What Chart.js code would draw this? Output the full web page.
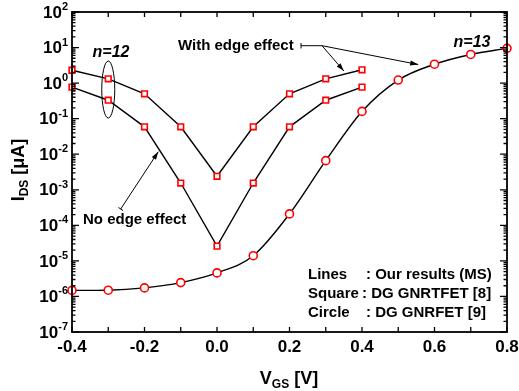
<!DOCTYPE html>
<html>
<head>
<meta charset="utf-8">
<script src="https://cdn.jsdelivr.net/npm/chart.js@4/dist/chart.umd.min.js"></script>
<style>
  html, body { margin: 0; padding: 0; background: #fff; }
  #wrap { width: 519px; height: 391px; }
</style>
</head>
<body>
<div id="wrap"><canvas id="ids-chart"></canvas></div>
<script>
// data
const vgs = [-0.4, -0.3, -0.2, -0.1, 0.0, 0.1, 0.2, 0.3, 0.4];
const vgs13 = [-0.4, -0.3, -0.2, -0.1, 0.0, 0.1, 0.2, 0.3, 0.4, 0.5, 0.6, 0.7, 0.8];
const withEdge = [2.3, 1.32, 0.5, 0.059, 0.0024, 0.059, 0.5, 1.32, 2.37];
const noEdge = [0.77, 0.33, 0.059, 0.00155, 2.6e-5, 0.00155, 0.059, 0.33, 0.77];
const n13 = [1.48e-6, 1.5e-6, 1.74e-6, 2.45e-6, 4.6e-6, 1.4e-5, 2.1e-4, 0.0066, 0.16, 1.22, 3.4, 6.4, 9.5];
const yExponents = [2, 1, 0, -1, -2, -3, -4, -5, -6, -7];
const legendRows = [
    ["Lines", ": Our results (MS)"],
    ["Square", ": DG GNRTFET [8]"],
    ["Circle", ": DG GNRFET [9]"]
];

const FONT = '"Liberation Sans", Arial, sans-serif';

function pts(xs, ys) {
    return xs.map((x, i) => ({ x: x, y: ys[i] }));
}

function arrow(ctx, x1, y1, x2, y2) {
    ctx.beginPath();
    ctx.moveTo(x1, y1);
    ctx.lineTo(x2, y2);
    ctx.stroke();
    const a = Math.atan2(y2 - y1, x2 - x1);
    const L = 8, W = 2.5;
    ctx.beginPath();
    ctx.moveTo(x2, y2);
    ctx.lineTo(x2 - L * Math.cos(a) + W * Math.sin(a), y2 - L * Math.sin(a) - W * Math.cos(a));
    ctx.lineTo(x2 - L * Math.cos(a) - W * Math.sin(a), y2 - L * Math.sin(a) + W * Math.cos(a));
    ctx.closePath();
    ctx.fill();
}

const decor = {
    id: 'decor',
    afterDraw(chart) {
        const ctx = chart.ctx;
        const xs = chart.scales.x, ys = chart.scales.y;
        const a = chart.chartArea;
        ctx.save();
        ctx.strokeStyle = '#000';
        ctx.fillStyle = '#000';

        // frame
        ctx.lineWidth = 1.8;
        ctx.strokeRect(a.left, a.top, a.right - a.left, a.bottom - a.top);

        // x ticks every 0.1, top and bottom
        ctx.lineWidth = 1.3;
        for (let i = -4; i <= 8; i++) {
            const px = xs.getPixelForValue(i / 10);
            ctx.beginPath();
            ctx.moveTo(px, a.bottom); ctx.lineTo(px, a.bottom - 5);
            ctx.moveTo(px, a.top); ctx.lineTo(px, a.top + 5);
            ctx.stroke();
        }
        // y ticks, major + minor, left and right
        for (let e = -7; e <= 2; e++) {
            for (let m = 1; m <= 9; m++) {
                if (e === 2 && m > 1) break;
                const py = ys.getPixelForValue(m * Math.pow(10, e));
                const len = m === 1 ? 7 : 3.5;
                ctx.beginPath();
                ctx.moveTo(a.left, py); ctx.lineTo(a.left + len, py);
                ctx.moveTo(a.right, py); ctx.lineTo(a.right - len, py);
                ctx.stroke();
            }
        }

        // y tick labels 10^n
        ctx.textBaseline = 'middle';
        yExponents.forEach(e => {
            const py = ys.getPixelForValue(Math.pow(10, e));
            ctx.font = 'bold 11px ' + FONT;
            const ex = String(e);
            const ew = ctx.measureText(ex).width;
            ctx.textAlign = 'left';
            ctx.fillText(ex, 68 - ew, py - 5);
            ctx.font = 'bold 17px ' + FONT;
            ctx.textAlign = 'right';
            ctx.fillText('10', 68 - ew, py + 1);
        });

        // y title
        ctx.save();
        ctx.translate(19, 170);
        ctx.rotate(-Math.PI / 2);
        ctx.textAlign = 'left';
        ctx.font = 'bold 18px ' + FONT;
        const w1 = ctx.measureText('I').width;
        ctx.font = 'bold 12px ' + FONT;
        const w2 = ctx.measureText('DS').width;
        ctx.font = 'bold 18px ' + FONT;
        const w3 = ctx.measureText(' [\u03bcA]').width;
        let tx = -(w1 + w2 + w3) / 2;
        ctx.fillText('I', tx, 0);
        ctx.font = 'bold 12px ' + FONT;
        ctx.fillText('DS', tx + w1, 6);
        ctx.font = 'bold 18px ' + FONT;
        ctx.fillText(' [\u03bcA]', tx + w1 + w2, 0);
        ctx.restore();

        // x title
        ctx.textAlign = 'left';
        ctx.font = 'bold 18px ' + FONT;
        const v1 = ctx.measureText('V').width;
        ctx.font = 'bold 12px ' + FONT;
        const v2 = ctx.measureText('GS').width;
        ctx.font = 'bold 18px ' + FONT;
        const v3 = ctx.measureText(' [V]').width;
        let vx = 289 - (v1 + v2 + v3) / 2;
        ctx.fillText('V', vx, 379);
        ctx.font = 'bold 12px ' + FONT;
        ctx.fillText('GS', vx + v1, 385);
        ctx.font = 'bold 18px ' + FONT;
        ctx.fillText(' [V]', vx + v1 + v2, 379);

        // n labels
        ctx.font = 'italic bold 16px ' + FONT;
        ctx.textAlign = 'center';
        ctx.fillText('n=12', 111, 53);
        ctx.fillText('n=13', 472, 43);

        // ellipse around the n=12 curves
        const ex0 = xs.getPixelForValue(vgs[1]);
        const eyA = ys.getPixelForValue(withEdge[1]);
        const eyB = ys.getPixelForValue(noEdge[1]);
        ctx.lineWidth = 1;
        ctx.beginPath();
        ctx.ellipse(ex0, (eyA + eyB) / 2, 6.5, 28.5, 0, 0, Math.PI * 2);
        ctx.stroke();

        // edge effect notes
        ctx.font = 'bold 15px ' + FONT;
        ctx.textAlign = 'left';
        ctx.fillText('With edge effect', 178, 46);
        ctx.fillText('No edge effect', 83, 220);

        ctx.lineWidth = 1;
        ctx.beginPath();
        ctx.moveTo(301, 43); ctx.lineTo(301, 48.5);
        ctx.moveTo(301, 45.7); ctx.lineTo(322, 45.7);
        ctx.stroke();
        arrow(ctx, 322, 45.7, xs.getPixelForValue(0.35), 71);
        arrow(ctx, 322, 45.7, xs.getPixelForValue(0.555), 64.5);

        ctx.beginPath();
        ctx.moveTo(118.5, 207.5); ctx.lineTo(123, 210.5);
        ctx.stroke();
        arrow(ctx, 120.7, 209, 158.3, 151.7);

        // legend text
        ctx.font = 'bold 15px ' + FONT;
        legendRows.forEach((r, i) => {
            const py = 275 + i * 19;
            ctx.fillText(r[0], 308, py);
            ctx.fillText(r[1], i === 1 ? 362 : 366, py);
        });

        ctx.restore();
    }
};

const lineStyle = {
    borderColor: '#000',
    borderWidth: 1.4,
    pointBorderColor: '#ff0000',
    pointBackgroundColor: '#ffffff',
    pointBorderWidth: 1.6,
    fill: false
};

new Chart(document.getElementById('ids-chart'), {
    type: 'line',
    data: {
        datasets: [
            Object.assign({ label: 'With edge effect', data: pts(vgs, withEdge), pointStyle: 'rect', pointRadius: 4, tension: 0 }, lineStyle),
            Object.assign({ label: 'No edge effect', data: pts(vgs, noEdge), pointStyle: 'rect', pointRadius: 4, tension: 0 }, lineStyle),
            Object.assign({ label: 'n=13', data: pts(vgs13, n13), pointStyle: 'circle', pointRadius: 4, cubicInterpolationMode: 'monotone' }, lineStyle)
        ]
    },
    options: {
        responsive: true,
        maintainAspectRatio: false,
        animation: false,
        clip: false,
        layout: { padding: { left: 72, right: 12, top: 12, bottom: 33 } },
        plugins: { legend: { display: false }, tooltip: { enabled: false } },
        scales: {
            x: {
                type: 'linear',
                min: -0.4, max: 0.8,
                grid: { display: false, drawTicks: false, tickLength: 0 },
                border: { display: false },
                ticks: {
                    stepSize: 0.2,
                    padding: 5,
                    color: '#000',
                    font: { family: FONT, size: 17, weight: 'bold' },
                    callback: v => v.toFixed(1)
                },
                afterFit: s => { s.height = 26; s.paddingLeft = 0; s.paddingRight = 0; }
            },
            y: {
                type: 'logarithmic',
                min: 1e-7, max: 1e2,
                grid: { display: false, drawTicks: false, tickLength: 0 },
                border: { display: false },
                ticks: { display: false },
                afterFit: s => { s.width = 0; s.paddingTop = 0; s.paddingBottom = 0; }
            }
        }
    },
    plugins: [decor]
});
</script>
</body>
</html>
